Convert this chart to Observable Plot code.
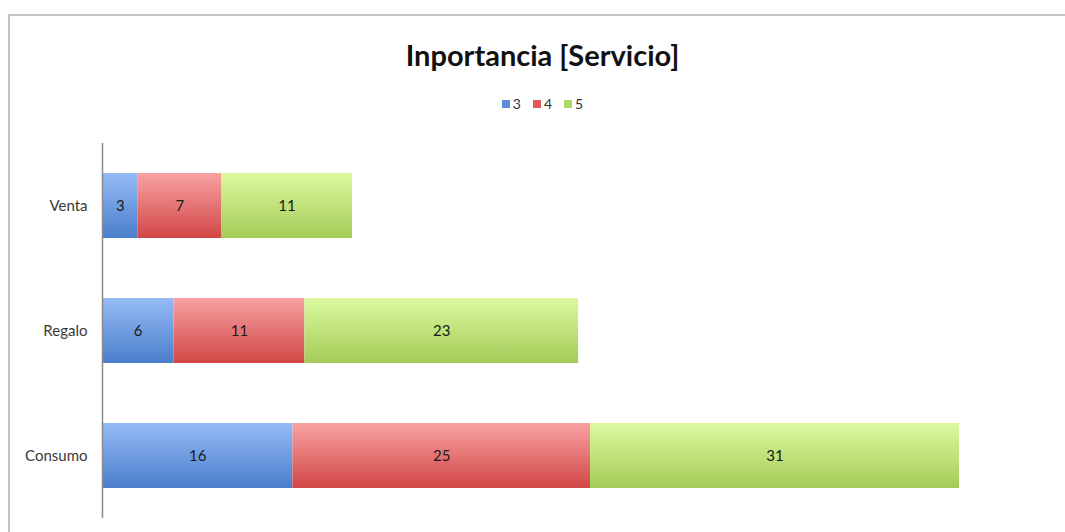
<!DOCTYPE html>
<html>
<head>
<meta charset="utf-8">
<script src="https://cdn.jsdelivr.net/npm/d3@7"></script>
<script src="https://cdn.jsdelivr.net/npm/@observablehq/plot@0.6"></script>
<style>
  html, body { margin: 0; padding: 0; background: #fff; }
  body { width: 1065px; height: 532px; position: relative; overflow: hidden; font-family: Lato, "Open Sans", sans-serif; }
  #frame { position: absolute; left: 8px; top: 14px; width: 1100px; height: 600px; border: 2.5px solid #c4c4c4; box-sizing: border-box; }
  #title { position: absolute; left: 10px; width: 1065px; top: 38px; line-height: 34px; text-align: center; font-size: 29px; font-weight: bold; color: #111; }
  #legend { position: absolute; left: 10px; width: 1065px; top: 95px; line-height: 18px; text-align: center; font-size: 14px; color: #333; }
  #legend span.item { margin: 0 6px; }
  #legend span.sw { display: inline-block; width: 8px; height: 8px; margin-right: 3px; vertical-align: 1px; }
  #chart { position: absolute; left: 0; top: 130px; }
</style>
</head>
<body>
<div id="frame"></div>
<div id="title">Inportancia [Servicio]</div>
<div id="legend"></div>
<div id="chart"></div>
<script>
const categories = ["Venta", "Regalo", "Consumo"];
const seriesNames = ["3", "4", "5"];
const values3 = [3, 6, 16];
const values4 = [7, 11, 25];
const values5 = [11, 23, 31];

const topColors = ["#95bbf6", "#f8a2a2", "#dcf9a0"];
const bottomColors = ["#4a7ecb", "#d24646", "#a4cb57"];
const legendColors = ["#5b8fdb", "#e05a5a", "#b2d86a"];

const seriesValues = [values3, values4, values5];
const data = [];
seriesNames.forEach((s, si) => {
  categories.forEach((c, ci) => data.push({cat: c, series: s, value: seriesValues[si][ci]}));
});

const gradIds = seriesNames.map((s, i) => "grad" + i);

function defsMark() {
  const defs = d3.create("svg:defs");
  seriesNames.forEach((s, i) => {
    const g = defs.append("linearGradient").attr("id", gradIds[i]).attr("x1", 0).attr("y1", 0).attr("x2", 0).attr("y2", 1);
    g.append("stop").attr("offset", "0%").attr("stop-color", topColors[i]);
    g.append("stop").attr("offset", "100%").attr("stop-color", bottomColors[i]);
  });
  const f = defs.append("filter").attr("id", "shadow").attr("x", "-5%").attr("y", "-10%").attr("width", "110%").attr("height", "130%");
  f.append("feDropShadow").attr("dx", 1).attr("dy", 2).attr("stdDeviation", 1.2).attr("flood-color", "#000").attr("flood-opacity", 0.25);
  return defs.node();
}

const chart = Plot.plot({
  width: 1065,
  height: 402,
  marginLeft: 102,
  marginRight: 106,
  marginTop: 13,
  marginBottom: 14,
  style: {fontFamily: "Lato, 'Open Sans', sans-serif", fontSize: "15px", color: "#3a3a3a", background: "transparent"},
  x: {domain: [0, 72], axis: null},
  y: {domain: categories, paddingInner: 0.48, paddingOuter: 0.24, label: null, tickSize: 0, tickPadding: 15},
  color: {domain: seriesNames, range: gradIds.map(id => `url(#${id})`)},
  marks: [
    defsMark,
    Plot.barX(data, Plot.stackX({x: "value", y: "cat", fill: "series", inset: 0, style: {filter: "url(#shadow)"}})),
    Plot.textX(data, Plot.stackX({x: "value", y: "cat", text: d => String(d.value), fill: "#1a1a1a", fontSize: 15})),
    Plot.ruleX([0], {stroke: "#8a8a8a", strokeWidth: 1.5})
  ]
});
document.getElementById("chart").appendChild(chart);

const legend = document.getElementById("legend");
seriesNames.forEach((s, i) => {
  const item = document.createElement("span");
  item.className = "item";
  const sw = document.createElement("span");
  sw.className = "sw";
  sw.style.background = legendColors[i];
  item.appendChild(sw);
  item.appendChild(document.createTextNode(s));
  legend.appendChild(item);
});
</script>
</body>
</html>
